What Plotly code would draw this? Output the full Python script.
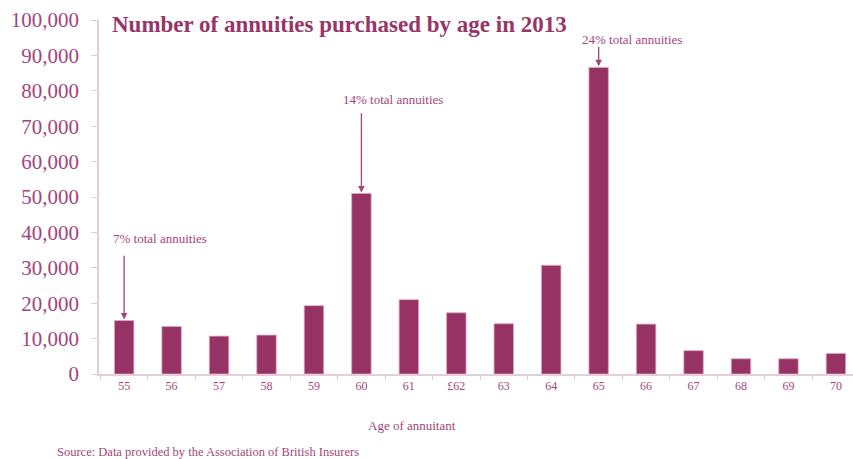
import plotly.graph_objects as go

ages = ["55", "56", "57", "58", "59", "60", "61", "£62", "63", "64", "65", "66", "67", "68", "69", "70"]
annuities = [15100, 13400, 10700, 11000, 19300, 51000, 21000, 17300, 14200, 30700, 86600, 14100, 6600, 4300, 4300, 5800]

title_text = "Number of annuities purchased by age in 2013"
x_title = "Age of annuitant"
source_text = "Source: Data provided by the Association of British Insurers"

callouts = [
    # (text, category, tail value, text x index, text y)
    ("7% total annuities", "55", 33800, -0.28, 38300),
    ("14% total annuities", "60", 74100, 4.58, 77500),
    ("24% total annuities", "65", 92900, 9.61, 94600),
]

BAR = "#963264"
TXT = "#a4457a"
AX = "#e3cdd8"
FONT = "Liberation Serif"

fig = go.Figure()
fig.add_trace(go.Bar(
    x=ages, y=annuities, width=0.41,
    marker=dict(color=BAR, line=dict(color="#d9a9c0", width=0.8)),
    hoverinfo="skip",
))

annotations = []
for text, cat, tail, tx, ty in callouts:
    idx = ages.index(cat)
    val = annuities[idx]
    annotations.append(dict(
        x=idx, y=val + 300, xref="x", yref="y",
        ax=idx, ay=tail, axref="x", ayref="y",
        showarrow=True, arrowhead=2, arrowsize=1, arrowwidth=1.3,
        arrowcolor=TXT, text="",
    ))
    annotations.append(dict(
        x=tx, y=ty, xref="x", yref="y", xanchor="left", yanchor="middle",
        text=text, showarrow=False, font=dict(family=FONT, size=13, color=TXT),
    ))

W, H = 853, 459
L, R, T, B = 99, 0, 20, 85

def px(xp, yp):
    return (xp - L) / (W - L - R), (H - yp - B) / (H - T - B)

for txt, xp, yp, size, col, anchor in [
    (x_title, 412, 425, 13, TXT, "center"),
    (source_text, 55, 452, 12.5, TXT, "left"),
    ("<b>" + title_text + "</b>", 110, 24, 23, "#983466", "left"),
]:
    xx, yy = px(xp, yp)
    annotations.append(dict(
        x=xx, y=yy, xref="paper", yref="paper", text=txt, showarrow=False,
        font=dict(family=FONT, size=size, color=col), xanchor=anchor, yanchor="middle",
    ))

fig.update_layout(
    width=W, height=H,
    margin=dict(l=L, r=R, t=T, b=B),
    paper_bgcolor="white", plot_bgcolor="white",
    showlegend=False,
    annotations=annotations,
    xaxis=dict(
        type="category", range=[-0.53, 15.36],
        showline=True, linecolor=AX, linewidth=1.5,
        ticks="outside", tickson="boundaries", ticklen=4, tickcolor=AX,
        tickfont=dict(family=FONT, size=12, color=TXT),
        showgrid=False, zeroline=False,
    ),
    yaxis=dict(
        range=[0, 100000], dtick=10000, tickformat=",",
        showline=True, linecolor=AX, linewidth=1.5,
        ticks="outside", ticklen=6, tickcolor=AX,
        tickfont=dict(family=FONT, size=21, color=TXT),
        ticklabelstandoff=8,
        showgrid=False, zeroline=False,
    ),
)

fig.write_html("out.html")
